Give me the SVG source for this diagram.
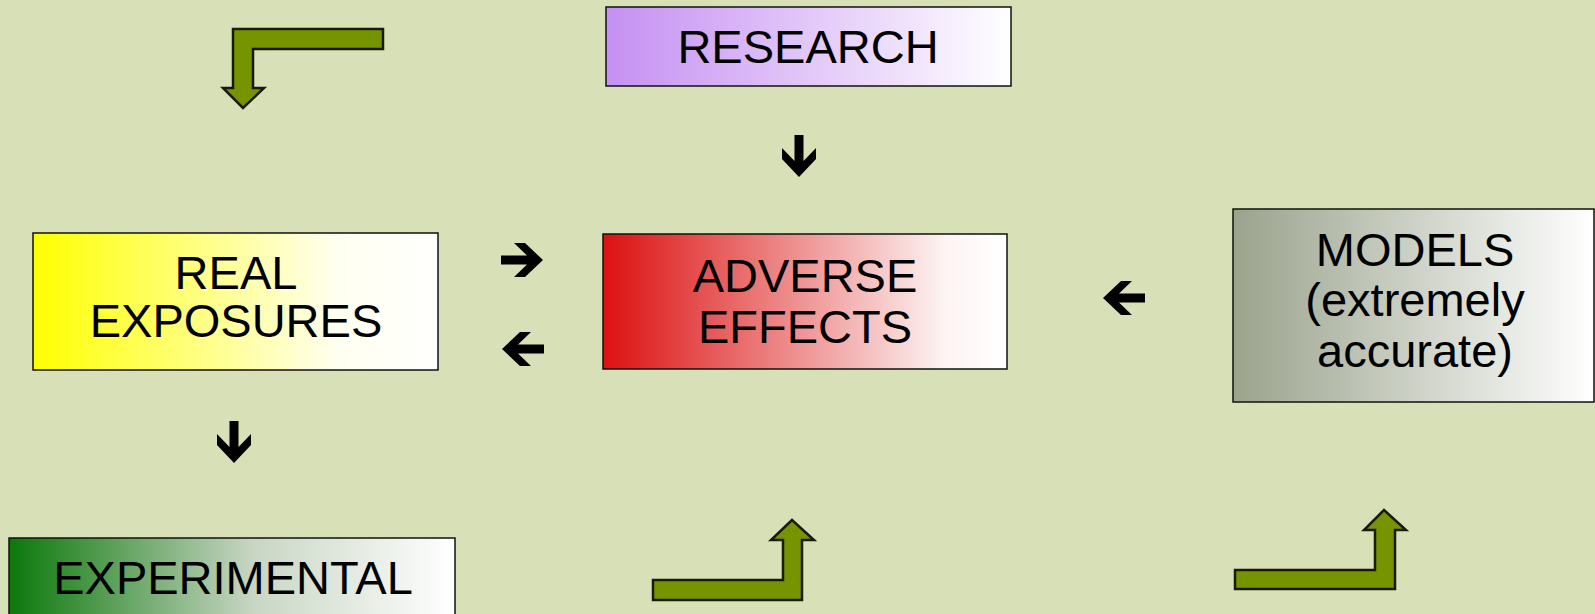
<svg xmlns="http://www.w3.org/2000/svg" width="1595" height="614" viewBox="0 0 1595 614">
<style>
.box{stroke:#111;stroke-width:1.5}
.t{font-family:"Liberation Sans",Arial,sans-serif;font-size:47px;fill:#000;text-anchor:middle}
.g{fill:#759400;stroke:#1a1a0a;stroke-width:2.5;stroke-linejoin:miter}
.k{fill:#000}
</style>
<defs>
<linearGradient id="gPurple" x1="0" x2="1" y1="0" y2="0"><stop offset="0" stop-color="#c590f2"/><stop offset="1" stop-color="#ffffff"/></linearGradient>
<linearGradient id="gYellow" x1="0" x2="1" y1="0" y2="0"><stop offset="0" stop-color="#ffff00"/><stop offset="0.75" stop-color="#fffff0"/><stop offset="1" stop-color="#ffffff"/></linearGradient>
<linearGradient id="gRed" x1="0" x2="1" y1="0" y2="0"><stop offset="0" stop-color="#dc1010"/><stop offset="0.85" stop-color="#fdf4f4"/><stop offset="1" stop-color="#ffffff"/></linearGradient>
<linearGradient id="gGrey" x1="0" x2="1" y1="0" y2="0"><stop offset="0" stop-color="#9aa38d"/><stop offset="1" stop-color="#ffffff"/></linearGradient>
<linearGradient id="gGreen" x1="0" x2="1" y1="0" y2="0"><stop offset="0" stop-color="#0b780b"/><stop offset="0.55" stop-color="#c9d6c4"/><stop offset="1" stop-color="#ffffff"/></linearGradient>
<path id="arr" d="M-21,-4.5 L5,-4.5 L-8,-17 L3,-17 L21,0 L3,17 L-8,17 L5,4.5 L-21,4.5 Z"/>
</defs>
<rect width="1595" height="614" fill="#d8e0b7"/>

<g id="research">
<rect class="box" x="606" y="7" width="405" height="79" fill="url(#gPurple)"/>
<text class="t" x="808" y="63">RESEARCH</text>
</g>
<g id="real-exposures">
<rect class="box" x="33" y="233" width="405" height="137" fill="url(#gYellow)"/>
<text class="t" x="236" y="289">REAL</text>
<text class="t" x="236" y="337">EXPOSURES</text>
</g>
<g id="adverse-effects">
<rect class="box" x="603" y="234" width="404" height="135" fill="url(#gRed)"/>
<text class="t" x="805" y="292">ADVERSE</text>
<text class="t" x="805" y="343">EFFECTS</text>
</g>
<g id="models">
<rect class="box" x="1233" y="209" width="361" height="193" fill="url(#gGrey)"/>
<text class="t" x="1415" y="266">MODELS</text>
<text class="t" x="1415" y="316">(extremely</text>
<text class="t" x="1415" y="367">accurate)</text>
</g>
<g id="experimental">
<rect class="box" x="9" y="538" width="446" height="90" fill="url(#gGreen)"/>
<text class="t" x="233" y="594">EXPERIMENTAL</text>
</g>

<g id="connectors">
<use href="#arr" class="k" transform="translate(522,260)"/>
<use href="#arr" class="k" transform="translate(523,349) rotate(180)"/>
<use href="#arr" class="k" transform="translate(1124,298) rotate(180)"/>
<use href="#arr" class="k" transform="translate(799,156) rotate(90)"/>
<use href="#arr" class="k" transform="translate(234,442) rotate(90)"/>
<polygon class="g" points="383,29 233,29 233,88 223,88 243,108 264,88 253,88 253,49 383,49"/>
<polygon class="g" points="653,580 783,580 783,540 771,540 792,520 814,540 802,540 802,600 653,600"/>
<polygon class="g" points="1235,570 1375,570 1375,530 1364,530 1384,510 1406,530 1395,530 1395,589 1235,589"/>
</g>
</svg>
